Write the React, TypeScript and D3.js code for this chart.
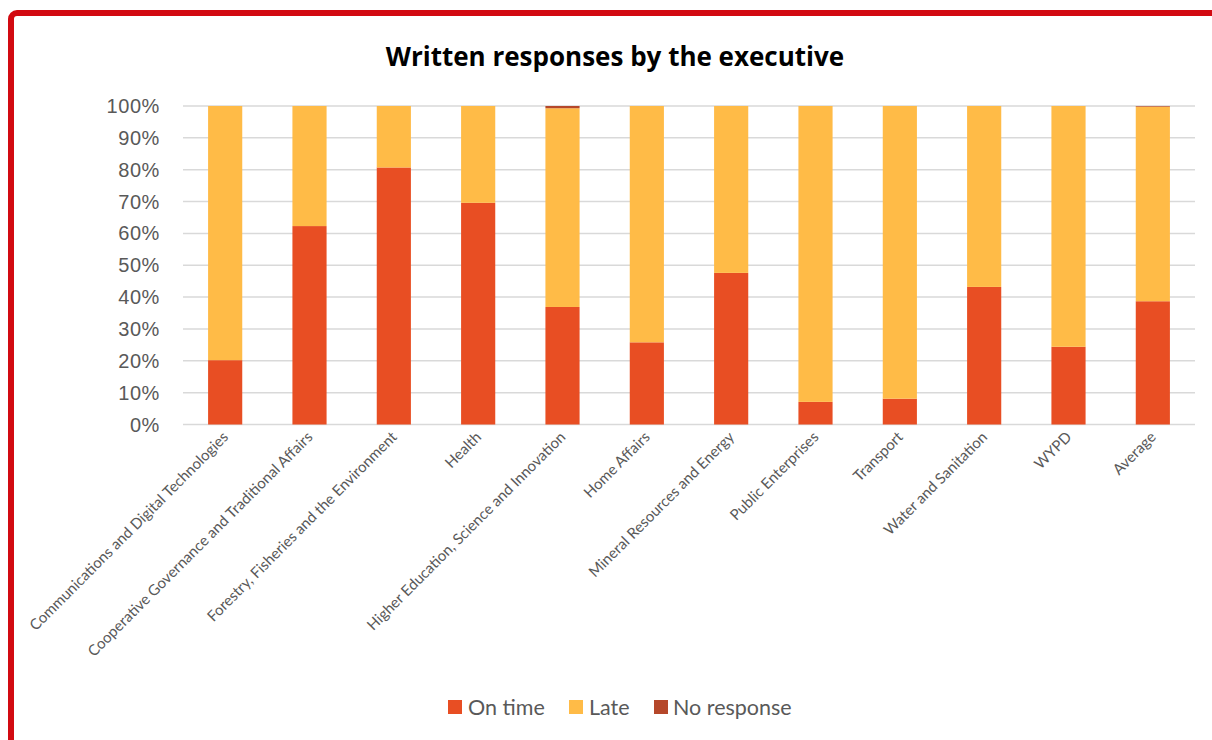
import React, { useEffect, useRef } from "react";
import * as d3 from "d3";

const categories = [
  "Communications and Digital Technologies",
  "Cooperative Governance and Traditional Affairs",
  "Forestry, Fisheries and the Environment",
  "Health",
  "Higher Education, Science and Innovation",
  "Home Affairs",
  "Mineral Resources and Energy",
  "Public Enterprises",
  "Transport",
  "Water and Sanitation",
  "WYPD",
  "Average",
];
const onTime = [20.2, 62.3, 80.7, 69.6, 36.9, 25.8, 47.6, 7.1, 8.1, 43.2, 24.4, 38.7];
const noResponse = [0, 0, 0, 0, 0.7, 0, 0, 0, 0, 0, 0, 0.2];
const late = onTime.map((v, i) => 100 - v - noResponse[i]);
const seriesNames = ["On time", "Late", "No response"];
const seriesColors = ["#E84E23", "#FFBB47", "#B5472A"];
const yTicks = [0, 10, 20, 30, 40, 50, 60, 70, 80, 90, 100];

const W = 1212;
const H = 740;
const plot = { left: 183, right: 1195, top: 106, bottom: 424.5 };

export default function App() {
  const ref = useRef<SVGSVGElement>(null);
  useEffect(() => {
    const svg = d3.select(ref.current);
    svg.selectAll("*").remove();

    svg.append("rect").attr("width", W).attr("height", H).attr("fill", "#fff");
    svg
      .append("rect")
      .attr("x", 11)
      .attr("y", 13)
      .attr("width", 1300)
      .attr("height", 900)
      .attr("rx", 6)
      .attr("fill", "none")
      .attr("stroke", "#D20A11")
      .attr("stroke-width", 6);

    svg
      .append("text")
      .attr("x", 615)
      .attr("y", 66)
      .attr("text-anchor", "middle")
      .attr("font-family", "Open Sans, sans-serif")
      .attr("font-weight", "bold")
      .attr("font-size", 26)
      .attr("fill", "#000")
      .text("Written responses by the executive");

    const x = d3
      .scaleBand<string>()
      .domain(categories)
      .range([plot.left, plot.right])
      .paddingInner(0.595)
      .paddingOuter(0.2975);
    const y = d3.scaleLinear().domain([0, 100]).range([plot.bottom, plot.top]);

    const grid = svg.append("g");
    yTicks.forEach((t) => {
      grid
        .append("line")
        .attr("x1", plot.left)
        .attr("x2", plot.right)
        .attr("y1", y(t))
        .attr("y2", y(t))
        .attr("stroke", "#D9D9D9")
        .attr("stroke-width", 1.5);
      grid
        .append("text")
        .attr("x", 160)
        .attr("y", y(t))
        .attr("dy", "0.35em")
        .attr("text-anchor", "end")
        .attr("font-family", "Liberation Sans, Arial, sans-serif")
        .attr("font-size", 20)
        .attr("letter-spacing", 0.6)
        .attr("fill", "#595959")
        .text(`${t}%`);
    });

    const rows = categories.map((c, i) => ({
      cat: c,
      "On time": onTime[i],
      Late: late[i],
      "No response": noResponse[i],
    }));
    const stack = d3.stack<any>().keys(seriesNames)(rows);
    stack.forEach((s, si) => {
      svg
        .append("g")
        .selectAll("rect")
        .data(s)
        .join("rect")
        .attr("x", (d: any) => x(d.data.cat)!)
        .attr("width", x.bandwidth())
        .attr("y", (d: any) => y(d[1]))
        .attr("height", (d: any) => Math.max(0, y(d[0]) - y(d[1])))
        .attr("fill", seriesColors[si]);
    });

    const xl = svg.append("g");
    categories.forEach((c) => {
      const cx = x(c)! + x.bandwidth() / 2 + 4;
      xl.append("text")
        .attr("transform", `translate(${cx},${438}) rotate(-45)`)
        .attr("text-anchor", "end")
        .attr("font-family", "Lato, Open Sans, sans-serif")
        .attr("font-size", 15)
        .attr("fill", "#595959")
        .text(c);
    });

    const legendItems = [
      { name: seriesNames[0], color: seriesColors[0], sx: 448, tx: 468 },
      { name: seriesNames[1], color: seriesColors[1], sx: 569, tx: 589 },
      { name: seriesNames[2], color: seriesColors[2], sx: 654, tx: 673 },
    ];
    const lg = svg.append("g");
    legendItems.forEach((it) => {
      lg.append("rect")
        .attr("x", it.sx)
        .attr("y", 700)
        .attr("width", 14)
        .attr("height", 14)
        .attr("fill", it.color);
      lg.append("text")
        .attr("x", it.tx)
        .attr("y", 707)
        .attr("dy", "0.35em")
        .attr("font-family", "Lato, Open Sans, sans-serif")
        .attr("font-size", 21.5)
        .attr("fill", "#595959")
        .text(it.name);
    });
  }, []);

  return (
    <svg
      ref={ref}
      width={W}
      height={H}
      style={{ position: "absolute", left: 0, top: 0, display: "block" }}
    />
  );
}
